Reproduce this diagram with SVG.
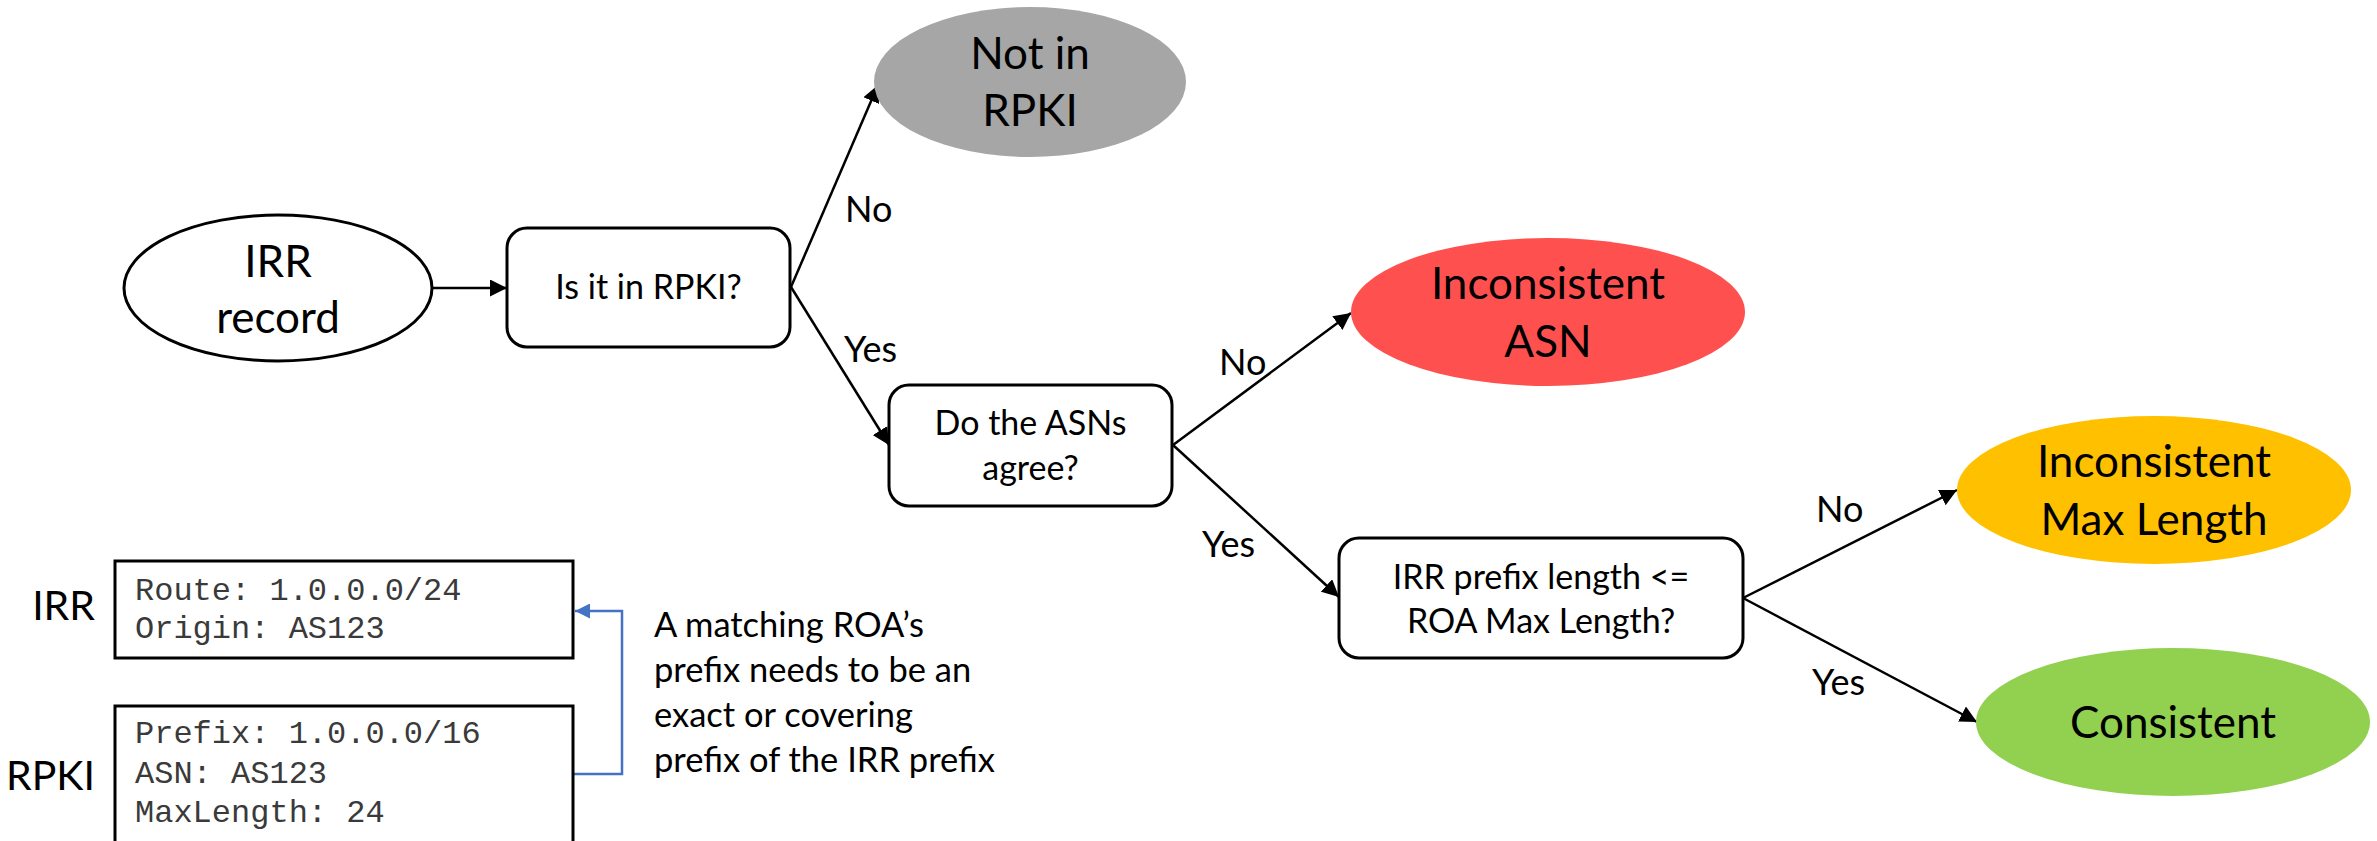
<svg xmlns="http://www.w3.org/2000/svg" width="2377" height="841" viewBox="0 0 2377 841">
<style>
.t{font-family:Lato,"Open Sans","Noto Sans",sans-serif;fill:#000}
.box{fill:#fff;stroke:#000;stroke-width:3}
.ell{stroke:none}
.btxt{font-size:34px;text-anchor:middle}
.etxt{font-size:44px;text-anchor:middle}
.lbl{font-size:36px}
.side{font-size:41px;text-anchor:end}
.note{font-size:34.5px}
.code{font-family:"Liberation Mono","Courier New",monospace;font-size:32px;fill:#3a3a3a}
.conn{stroke:#000;stroke-width:2.5;fill:none;marker-end:url(#arr)}
.blue{stroke:#4472C4;stroke-width:2.5;fill:none;marker-end:url(#barr)}
</style>
<defs>
<marker id="arr" viewBox="0 0 16 16" refX="16" refY="8" markerWidth="17" markerHeight="17" markerUnits="userSpaceOnUse" orient="auto"><path d="M0,0 L16,8 L0,16 z" fill="#000"/></marker>
<marker id="barr" viewBox="0 0 16 16" refX="16" refY="8" markerWidth="15" markerHeight="15" markerUnits="userSpaceOnUse" orient="auto"><path d="M0,0 L16,8 L0,16 z" fill="#4472C4"/></marker>
</defs>
<rect width="2377" height="841" fill="#fff"/>

<g id="connectors">
<line class="conn" x1="433" y1="288" x2="507" y2="288"/>
<line class="conn" x1="791" y1="287" x2="878" y2="85"/>
<line class="conn" x1="791" y1="287" x2="889" y2="445"/>
<line class="conn" x1="1173" y1="445" x2="1351" y2="313"/>
<line class="conn" x1="1173" y1="445" x2="1339" y2="597"/>
<line class="conn" x1="1743" y1="598" x2="1957" y2="490"/>
<line class="conn" x1="1743" y1="598" x2="1977" y2="722"/>
<polyline class="blue" points="573,774 622,774 622,611 575,611"/>
<text class="t lbl" x="845" y="222">No</text>
<text class="t lbl" x="844" y="362">Yes</text>
<text class="t lbl" x="1219" y="375">No</text>
<text class="t lbl" x="1202" y="557">Yes</text>
<text class="t lbl" x="1816" y="522">No</text>
<text class="t lbl" x="1812" y="695">Yes</text>
</g>

<g id="irr-record">
<ellipse cx="278" cy="288" rx="154" ry="73" fill="#fff" stroke="#000" stroke-width="3"/>
<text class="t etxt" x="278" y="277">IRR</text>
<text class="t etxt" x="278" y="333">record</text>
</g>

<g id="in-rpki">
<rect class="box" x="507" y="228" width="283" height="119" rx="20"/>
<text class="t btxt" x="648.5" y="299">Is it in RPKI?</text>
</g>

<g id="not-in-rpki">
<ellipse class="ell" cx="1030" cy="82" rx="156" ry="75" fill="#A6A6A6"/>
<text class="t etxt" x="1030" y="69">Not in</text>
<text class="t etxt" x="1030" y="126">RPKI</text>
</g>

<g id="asn-agree">
<rect class="box" x="889" y="385" width="283" height="121" rx="20"/>
<text class="t btxt" x="1030.5" y="435">Do the ASNs</text>
<text class="t btxt" x="1030.5" y="480">agree?</text>
</g>

<g id="inconsistent-asn">
<ellipse class="ell" cx="1548" cy="312" rx="197" ry="74" fill="#FF5050"/>
<text class="t etxt" x="1548" y="299">Inconsistent</text>
<text class="t etxt" x="1548" y="357">ASN</text>
</g>

<g id="maxlen-check">
<rect class="box" x="1339" y="538" width="404" height="120" rx="20"/>
<text class="t btxt" x="1541" y="589">IRR prefix length &lt;=</text>
<text class="t btxt" x="1541" y="633">ROA Max Length?</text>
</g>

<g id="inconsistent-maxlen">
<ellipse class="ell" cx="2154" cy="490" rx="197" ry="74" fill="#FFC000"/>
<text class="t etxt" x="2154" y="477">Inconsistent</text>
<text class="t etxt" x="2154" y="535">Max Length</text>
</g>

<g id="consistent">
<ellipse class="ell" cx="2173" cy="722" rx="197" ry="74" fill="#92D050"/>
<text class="t etxt" x="2173" y="738">Consistent</text>
</g>

<g id="irr-example">
<text class="t side" x="95" y="620">IRR</text>
<rect x="115" y="561" width="458" height="97" fill="#fff" stroke="#000" stroke-width="3"/>
<text class="code" x="135" y="600">Route: 1.0.0.0/24</text>
<text class="code" x="135" y="638">Origin: AS123</text>
</g>

<g id="rpki-example">
<text class="t side" x="95" y="790">RPKI</text>
<rect x="115" y="706" width="458" height="150" fill="#fff" stroke="#000" stroke-width="3"/>
<text class="code" x="135" y="743">Prefix: 1.0.0.0/16</text>
<text class="code" x="135" y="783">ASN: AS123</text>
<text class="code" x="135" y="822">MaxLength: 24</text>
</g>

<g id="note">
<text class="t note" x="654" y="637">A matching ROA’s</text>
<text class="t note" x="654" y="682">prefix needs to be an</text>
<text class="t note" x="654" y="727">exact or covering</text>
<text class="t note" x="654" y="772">prefix of the IRR prefix</text>
</g>
</svg>
